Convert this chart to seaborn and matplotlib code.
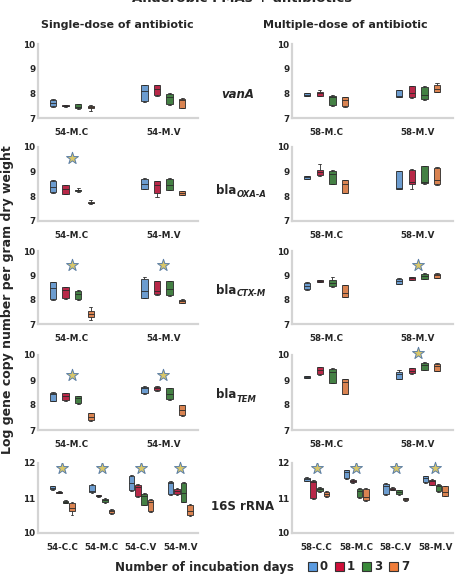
import numpy as np
import pandas as pd
import matplotlib
matplotlib.use("Agg")
import matplotlib.pyplot as plt
import matplotlib.patches as mpatches
import seaborn as sns

# incubation days and their colours
days = ["0", "1", "3", "7"]
day_colors = ["#5B9BE0", "#D0103A", "#3A8A3A", "#F07D3A"]

single_2 = ["54-M.C", "54-M.V"]
multi_2 = ["58-M.C", "58-M.V"]
single_4 = ["54-C.C", "54-M.C", "54-C.V", "54-M.V"]
multi_4 = ["58-C.C", "58-M.C", "58-C.V", "58-M.V"]

# each box = [min, q1, median, q3, max], listed group by group, days 0,1,3,7
vanA_single = [
    [7.45, 7.48, 7.60, 7.75, 7.78], [7.45, 7.48, 7.50, 7.52, 7.54],
    [7.36, 7.40, 7.46, 7.55, 7.58], [7.28, 7.40, 7.45, 7.50, 7.52],
    [7.65, 7.68, 8.08, 8.32, 8.34], [7.90, 7.92, 8.16, 8.32, 8.34],
    [7.52, 7.55, 7.86, 7.99, 8.00], [7.40, 7.42, 7.71, 7.78, 7.80],
]
vanA_multi = [
    [7.88, 7.90, 7.95, 8.00, 8.02], [7.88, 7.90, 8.00, 8.05, 8.13],
    [7.50, 7.52, 7.84, 7.91, 7.93], [7.45, 7.47, 7.74, 7.84, 7.86],
    [7.84, 7.86, 7.89, 8.13, 8.15], [7.82, 7.84, 8.02, 8.29, 8.30],
    [7.75, 7.78, 7.95, 8.27, 8.28], [8.04, 8.06, 8.18, 8.34, 8.40],
]
oxa_single = [
    [8.13, 8.18, 8.38, 8.62, 8.65], [8.09, 8.11, 8.31, 8.45, 8.47],
    [8.16, 8.21, 8.24, 8.27, 8.34], [7.68, 7.71, 7.73, 7.78, 7.84],
    [8.29, 8.31, 8.51, 8.72, 8.74], [7.99, 8.15, 8.45, 8.62, 8.64],
    [8.25, 8.27, 8.45, 8.72, 8.76], [8.05, 8.07, 8.13, 8.20, 8.22],
]
oxa_multi = [
    [8.70, 8.72, 8.78, 8.82, 8.84], [8.83, 8.85, 8.98, 9.08, 9.30],
    [8.49, 8.51, 8.92, 9.03, 9.05], [8.13, 8.15, 8.51, 8.65, 8.67],
    [8.29, 8.31, 8.34, 9.01, 9.02], [8.31, 8.51, 8.58, 9.08, 9.10],
    [8.52, 8.54, 8.58, 9.22, 9.24], [8.47, 8.49, 8.68, 9.16, 9.18],
]
ctx_single = [
    [7.99, 8.01, 8.46, 8.72, 8.74], [8.04, 8.06, 8.38, 8.51, 8.53],
    [7.99, 8.01, 8.25, 8.37, 8.39], [7.18, 7.27, 7.41, 7.52, 7.69],
    [8.06, 8.08, 8.37, 8.86, 8.92], [8.21, 8.23, 8.37, 8.76, 8.78],
    [8.16, 8.18, 8.43, 8.76, 8.78], [7.85, 7.87, 7.93, 7.99, 8.01],
]
ctx_multi = [
    [8.41, 8.43, 8.58, 8.70, 8.72], [8.72, 8.73, 8.77, 8.80, 8.81],
    [8.53, 8.55, 8.70, 8.82, 8.93], [8.10, 8.12, 8.28, 8.59, 8.61],
    [8.64, 8.66, 8.77, 8.86, 8.88], [8.80, 8.82, 8.90, 8.93, 8.95],
    [8.84, 8.86, 8.98, 9.07, 9.09], [8.88, 8.90, 9.00, 9.07, 9.09],
]
tem_single = [
    [8.15, 8.17, 8.44, 8.49, 8.51], [8.18, 8.20, 8.36, 8.47, 8.49],
    [8.05, 8.07, 8.27, 8.36, 8.38], [7.38, 7.40, 7.53, 7.67, 7.69],
    [8.45, 8.47, 8.67, 8.73, 8.75], [8.58, 8.60, 8.68, 8.73, 8.75],
    [8.21, 8.23, 8.45, 8.67, 8.69], [7.58, 7.60, 7.80, 8.00, 8.02],
]
tem_multi = [
    [9.08, 9.09, 9.12, 9.15, 9.16], [9.22, 9.24, 9.42, 9.52, 9.54],
    [8.88, 8.90, 9.34, 9.45, 9.50], [8.43, 8.45, 8.92, 9.03, 9.05],
    [9.03, 9.06, 9.24, 9.34, 9.41], [9.26, 9.28, 9.38, 9.48, 9.50],
    [9.40, 9.42, 9.59, 9.70, 9.72], [9.36, 9.38, 9.57, 9.66, 9.68],
]
s16_single = [
    [11.22, 11.26, 11.30, 11.33, 11.34], [11.14, 11.15, 11.16, 11.18, 11.19],
    [10.85, 10.87, 10.90, 10.92, 10.94], [10.52, 10.62, 10.71, 10.86, 10.90],
    [11.14, 11.16, 11.19, 11.38, 11.40], [11.04, 11.05, 11.07, 11.08, 11.09],
    [10.86, 10.88, 10.95, 10.97, 10.99], [10.55, 10.57, 10.62, 10.67, 10.69],
    [11.20, 11.22, 11.43, 11.64, 11.66], [11.03, 11.05, 11.31, 11.38, 11.40],
    [10.79, 10.81, 11.05, 11.11, 11.13], [10.60, 10.62, 10.90, 10.95, 10.97],
    [11.10, 11.12, 11.43, 11.46, 11.48], [11.09, 11.11, 11.19, 11.26, 11.28],
    [10.88, 10.90, 11.15, 11.43, 11.45], [10.48, 10.52, 10.62, 10.81, 10.84],
]
s16_multi = [
    [11.48, 11.50, 11.54, 11.57, 11.59], [10.98, 11.00, 11.45, 11.50, 11.52],
    [11.17, 11.19, 11.26, 11.30, 11.32], [11.03, 11.05, 11.12, 11.17, 11.19],
    [11.55, 11.57, 11.73, 11.79, 11.81], [11.43, 11.45, 11.48, 11.52, 11.53],
    [11.01, 11.03, 11.19, 11.26, 11.28], [10.91, 10.93, 11.04, 11.26, 11.28],
    [11.10, 11.12, 11.33, 11.40, 11.42], [11.23, 11.24, 11.27, 11.30, 11.31],
    [11.10, 11.12, 11.17, 11.22, 11.24], [10.92, 10.93, 10.97, 11.00, 11.01],
    [11.44, 11.46, 11.57, 11.62, 11.64], [11.36, 11.38, 11.48, 11.52, 11.54],
    [11.17, 11.19, 11.33, 11.38, 11.40], [11.05, 11.07, 11.18, 11.33, 11.35],
]

# significance stars: group and height
oxa_single_star = (["54-M.C"], [9.55])
ctx_single_star = (["54-M.C", "54-M.V"], [9.42, 9.42])
ctx_multi_star = (["58-M.V"], [9.41])
tem_single_star = (["54-M.C", "54-M.V"], [9.20, 9.20])
tem_multi_star = (["58-M.V"], [10.10])
s16_single_star = (single_4, [11.86] * 4)
s16_multi_star = (multi_4, [11.86] * 4)


def to_frame(groups, boxes):
    rows = []
    for gi, g in enumerate(groups):
        for di, d in enumerate(days):
            for v in boxes[gi * len(days) + di]:
                rows.append({"group": g, "day": d, "value": v})
    return pd.DataFrame(rows)


sns.set_theme(style="white")
plt.rcParams["font.family"] = ["DejaVu Sans"]

W, H = 459, 577
fig = plt.figure(figsize=(W / 100, H / 100), dpi=100)

# (top px, bottom px) of each row
rows_px = [(44, 118), (147, 221), (251, 324), (355, 430), (463, 533)]
cols_px = [(38, 198), (292, 453)]

panels = [
    (0, 0, single_2, vanA_single, None),
    (0, 1, multi_2, vanA_multi, None),
    (1, 0, single_2, oxa_single, oxa_single_star),
    (1, 1, multi_2, oxa_multi, None),
    (2, 0, single_2, ctx_single, ctx_single_star),
    (2, 1, multi_2, ctx_multi, ctx_multi_star),
    (3, 0, single_2, tem_single, tem_single_star),
    (3, 1, multi_2, tem_multi, tem_multi_star),
    (4, 0, single_4, s16_single, s16_single_star),
    (4, 1, multi_4, s16_multi, s16_multi_star),
]

for r, c, groups, boxes, stars in panels:
    t, b = rows_px[r]
    l, rgt = cols_px[c]
    ax = fig.add_axes([l / W, 1 - b / H, (rgt - l) / W, (b - t) / H])
    df = to_frame(groups, boxes)
    four = len(groups) == 4
    sns.boxplot(data=df, x="group", y="value", hue="day", order=groups,
                hue_order=days, palette=day_colors, whis=(0, 100),
                width=0.66 if four else 0.55, gap=0.15 if four else 0.5,
                linecolor="#2a2a2a", linewidth=0.6, showfliers=False,
                legend=False, ax=ax)
    if stars is not None:
        sns.stripplot(x=stars[0], y=stars[1], order=groups, jitter=False,
                      marker="*", size=9, color="#D9C76A", edgecolor="#5C7FA6",
                      linewidth=0.7, ax=ax)
        ax.collections[-1].set_clip_on(False)
    if four:
        ax.set_ylim(10, 12)
        ax.set_yticks([10, 11, 12])
        ax.set_xlim(-0.62, 3.45)
    else:
        ax.set_ylim(7, 10)
        ax.set_yticks([7, 8, 9, 10])
        ax.set_xlim(-0.37, 1.38)
    ax.set_xlabel("")
    ax.set_ylabel("")
    sns.despine(ax=ax)
    for s in ["left", "bottom"]:
        ax.spines[s].set_color("#D4D4D4")
        ax.spines[s].set_linewidth(1.6)
    ax.tick_params(axis="both", length=0, labelsize=6.3)
    ax.tick_params(axis="x", pad=7)
    ax.tick_params(axis="y", pad=2)
    for lab in ax.get_xticklabels() + ax.get_yticklabels():
        lab.set_fontweight("bold")

# titles
fig.text(242 / W, 1 + 1 / H, "Anaerobic FMAs + antibiotics", ha="center",
         va="center", fontsize=9.5, fontweight="bold")
fig.text(117 / W, 1 - 25 / H, "Single-dose of antibiotic", ha="center",
         va="center", fontsize=8, fontweight="bold")
fig.text(345 / W, 1 - 25 / H, "Multiple-dose of antibiotic", ha="center",
         va="center", fontsize=8, fontweight="bold")

# gene labels
fig.text(238 / W, 1 - 95 / H, "vanA", ha="center", va="center", fontsize=8.5,
         fontweight="bold", fontstyle="italic")
for y, sub in [(190, "OXA-A"), (290, "CTX-M"), (395, "TEM")]:
    fig.text(236 / W, 1 - y / H, "bla", ha="right", va="center",
             fontsize=8.5, fontweight="bold")
    fig.text(237 / W, 1 - (y + 4) / H, sub, ha="left", va="center",
             fontsize=6, fontweight="bold", fontstyle="italic")
fig.text(243 / W, 1 - 507 / H, "16S rRNA", ha="center", va="center",
         fontsize=8.5, fontweight="bold")

fig.text(8 / W, 1 - 300 / H, "Log gene copy number per gram dry weight",
         ha="center", va="center", rotation=90, fontsize=9, fontweight="bold")

fig.text(204 / W, 1 - 567 / H, "Number of incubation days", ha="center",
         va="center", fontsize=8.5, fontweight="bold")
handles = [mpatches.Patch(facecolor=col, edgecolor="#333333", linewidth=0.8,
                          label=d) for d, col in zip(days, day_colors)]
leg = fig.legend(handles=handles, loc="center left", ncol=4,
                 bbox_to_anchor=(302 / W, 1 - 567 / H), frameon=False,
                 handlelength=0.8, handleheight=0.8, handletextpad=0.2,
                 columnspacing=0.6, borderpad=0, fontsize=8.5)
for txt in leg.get_texts():
    txt.set_fontweight("bold")

fig.savefig("out.png", dpi=100)
